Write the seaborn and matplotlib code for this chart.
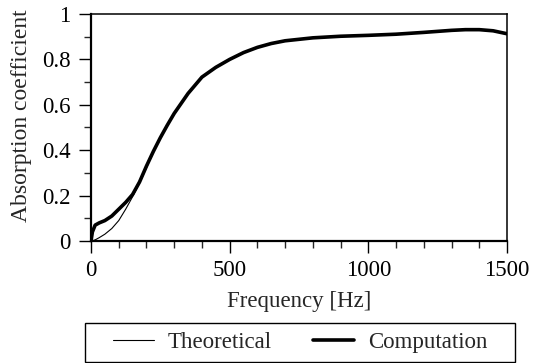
import numpy as np
import pandas as pd
import matplotlib
matplotlib.use("Agg")
import matplotlib.pyplot as plt
from matplotlib.patches import Rectangle
import seaborn as sns
from matplotlib.ticker import MultipleLocator, FuncFormatter

# Absorption coefficient versus frequency
freq = [0, 5, 15, 30, 50, 75, 100, 125, 150, 175, 200, 225, 250, 275, 300,
        350, 400, 450, 500, 550, 600, 650, 700, 800, 900, 1000, 1100, 1200,
        1300, 1350, 1400, 1450, 1500]
theoretical = [0, 0.001, 0.005, 0.015, 0.03, 0.055, 0.09, 0.14, 0.195, 0.255,
               0.322, 0.392, 0.455, 0.51, 0.562, 0.65, 0.722, 0.765, 0.80,
               0.83, 0.853, 0.87, 0.882, 0.895, 0.902, 0.906, 0.911, 0.918,
               0.926, 0.929, 0.929, 0.924, 0.913]
computation = [0, 0.04, 0.07, 0.08, 0.09, 0.11, 0.14, 0.17, 0.205, 0.26,
               0.33, 0.395, 0.455, 0.51, 0.562, 0.65, 0.722, 0.765, 0.80,
               0.83, 0.853, 0.87, 0.882, 0.895, 0.902, 0.906, 0.911, 0.919,
               0.928, 0.931, 0.931, 0.926, 0.913]

FS = 16.5

sns.set_theme(style="ticks")
plt.rcParams["font.family"] = ["Liberation Serif", "DejaVu Serif"]
plt.rcParams["font.size"] = FS

df = pd.concat([
    pd.DataFrame({"Frequency": freq, "Absorption": theoretical, "Series": "Theoretical"}),
    pd.DataFrame({"Frequency": freq, "Absorption": computation, "Series": "Computation"}),
])

W, H = 542, 363
fig = plt.figure(figsize=(W / 100, H / 100), dpi=100)
ax = fig.add_axes([91 / W, 1 - 241 / H, 416 / W, 227 / H])

sns.lineplot(data=df, x="Frequency", y="Absorption", hue="Series",
             size="Series", sizes={"Theoretical": 0.8, "Computation": 2.6},
             palette={"Theoretical": "black", "Computation": "black"},
             ax=ax, legend=False)

ax.set_xlim(0, 1500)
ax.set_ylim(0, 1)
ax.xaxis.set_major_locator(MultipleLocator(500))
ax.xaxis.set_minor_locator(MultipleLocator(100))
ax.yaxis.set_major_locator(MultipleLocator(0.2))
ax.yaxis.set_minor_locator(MultipleLocator(0.1))
ax.yaxis.set_major_formatter(FuncFormatter(lambda v, p: f"{v:g}"))
ax.tick_params(which="major", direction="out", length=8.6, width=1.0,
               labelsize=FS, colors="black", top=False, right=False)
ax.tick_params(which="minor", direction="out", length=4.8, width=1.0,
               top=False, right=False)
ax.tick_params(axis="x", which="major", pad=5)
ax.tick_params(axis="y", which="major", pad=6)
for side in ["left", "bottom"]:
    ax.spines[side].set_linewidth(1.6)
for side in ["top", "right"]:
    ax.spines[side].set_linewidth(1.1)
for s in ax.spines.values():
    s.set_color("black")

ax.set_xlabel("Frequency [Hz]", fontsize=FS, labelpad=7)
ax.set_ylabel("Absorption coefficient", fontsize=17)
ax.yaxis.set_label_coords(-0.143, 0.55)

# legend below the plot inside a plain rectangular box
fig.patches.append(Rectangle((85 / W, 1 / H), 430 / W, 39 / H,
                             transform=fig.transFigure, fill=False,
                             edgecolor="black", linewidth=1.0))
handles = [plt.Line2D([], [], color="black", lw=0.8),
           plt.Line2D([], [], color="black", lw=2.6)]
fig.legend(handles, ["Theoretical", "Computation"], ncol=2,
           loc="center", bbox_to_anchor=(300 / W, 1 - 342 / H),
           frameon=False, fontsize=FS, handlelength=1.8,
           handletextpad=0.6, columnspacing=1.8, borderpad=0.2)

fig.savefig("out.png", dpi=100)
